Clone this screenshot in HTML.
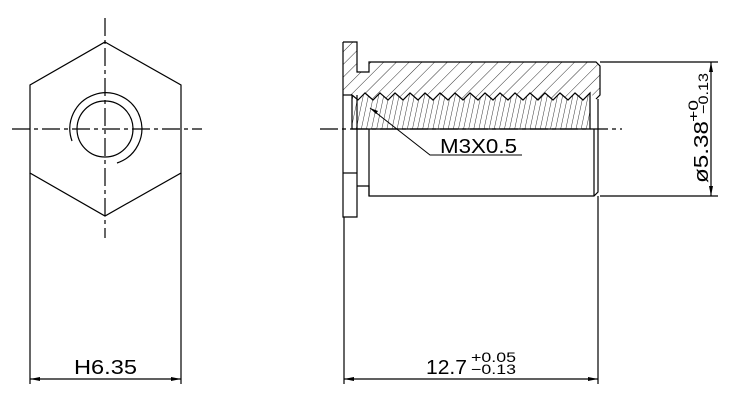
<!DOCTYPE html><html><head><style>body{margin:0;background:#fff}svg{display:block}text{font-family:"Liberation Sans",sans-serif;fill:#000}</style></head><body>
<svg width="734" height="412" viewBox="0 0 734 412" xmlns="http://www.w3.org/2000/svg">
<defs>
<pattern id="h1" patternUnits="userSpaceOnUse" width="9" height="9" patternTransform="rotate(45)"><line x1="0" y1="0" x2="0" y2="9" stroke="#000" stroke-width="0.8"/></pattern>
<pattern id="h2" patternUnits="userSpaceOnUse" width="5" height="5" patternTransform="rotate(12)"><line x1="0" y1="0" x2="0" y2="5" stroke="#000" stroke-width="0.8"/></pattern>
<clipPath id="c1"><path d="M343,42 H357 V72 H369 V62 H596 L600,66 V95 L596,99 L590,93 L583,100 L575,93 L568,100 L560,93 L553,100 L545,93 L538,100 L530,93 L523,100 L515,93 L508,100 L500,93 L493,100 L485,93 L478,100 L470,93 L463,100 L455,93 L448,100 L440,93 L433,100 L425,93 L418,100 L410,93 L403,100 L395,93 L388,100 L380,93 L373,100 L365,93 L358,100 L352,95 L343,95 Z"/></clipPath>
<clipPath id="c2"><path d="M352,95 L358,100 L365,93 L373,100 L380,93 L388,100 L395,93 L403,100 L410,93 L418,100 L425,93 L433,100 L440,93 L448,100 L455,93 L463,100 L470,93 L478,100 L485,93 L493,100 L500,93 L508,100 L515,93 L523,100 L530,93 L538,100 L545,93 L553,100 L560,93 L568,100 L575,93 L583,100 L590,93 V129 H352 Z"/></clipPath>
</defs>
<g fill="none" stroke="#000" stroke-width="1.2">
<path d="M105,42 L181,85 V173 L105,216 L30,173 V85 Z"/>
<circle cx="105" cy="129" r="28"/>
<path d="M72,141 A36,36 0 1 1 117,163"/>
<line x1="12" y1="129" x2="202" y2="129" stroke-dasharray="18,4,4,4"/>
<line x1="105" y1="18" x2="105" y2="238" stroke-dasharray="18,4,4,4"/>
<line x1="30" y1="173" x2="30" y2="384"/><line x1="181" y1="173" x2="181" y2="384"/>
<line x1="30" y1="379" x2="181" y2="379"/>
<rect x="343" y="42" width="260" height="60" fill="url(#h1)" clip-path="url(#c1)" stroke="none"/>
<rect x="350" y="90" width="245" height="40" fill="url(#h2)" clip-path="url(#c2)" stroke="none"/>
<path d="M343,42 H357 V72 H369 V62 H596 L600,66 V95 L596,99"/>
<path d="M352,95 L358,100 L365,93 L373,100 L380,93 L388,100 L395,93 L403,100 L410,93 L418,100 L425,93 L433,100 L440,93 L448,100 L455,93 L463,100 L470,93 L478,100 L485,93 L493,100 L500,93 L508,100 L515,93 L523,100 L530,93 L538,100 L545,93 L553,100 L560,93 L568,100 L575,93 L583,100 L590,93 V129 H352 Z"/>
<path d="M343,42 V217 H357 V95"/>
<line x1="343" y1="95" x2="352" y2="95"/>
<line x1="343" y1="173" x2="357" y2="173"/>
<path d="M357,186 H369 V196 H594 L598,192 V99"/>
<line x1="369" y1="129" x2="369" y2="196"/><line x1="594" y1="129" x2="594" y2="196"/>
<line x1="320" y1="129" x2="622" y2="129" stroke-dasharray="18,4,4,4"/>
<line x1="344" y1="217" x2="344" y2="384"/><line x1="598" y1="196" x2="598" y2="384"/>
<line x1="344" y1="379" x2="598" y2="379"/>
<line x1="600" y1="62" x2="718" y2="62"/><line x1="600" y1="196" x2="718" y2="196"/>
<line x1="711" y1="62" x2="711" y2="196"/>
<path d="M370,108 L430,155 H522" stroke-width="1"/>
</g>
<g fill="#000">
<path d="M30,379 l10,-2 v4 Z M181,379 l-10,-2 v4 Z M344,379 l10,-2 v4 Z M598,379 l-10,-2 v4 Z M711,62 l-2,10 h4 Z M711,196 l-2,-10 h4 Z M370,108 l8,3 l-2,3 Z"/>
</g>
<text x="74" y="374" font-size="20" textLength="63" lengthAdjust="spacingAndGlyphs">H6.35</text>
<text x="440" y="153" font-size="20" textLength="77" lengthAdjust="spacingAndGlyphs">M3X0.5</text>
<text x="426" y="374" font-size="20" textLength="41" lengthAdjust="spacingAndGlyphs">12.7</text>
<text x="471" y="362" font-size="14" textLength="45" lengthAdjust="spacingAndGlyphs">+0.05</text>
<text x="471" y="374" font-size="14" textLength="45" lengthAdjust="spacingAndGlyphs">−0.13</text>
<g transform="translate(708,183) rotate(-90)">
<text x="0" y="0" font-size="20" textLength="62" lengthAdjust="spacingAndGlyphs">ø5.38</text>
<text x="61" y="-10" font-size="14" textLength="22" lengthAdjust="spacingAndGlyphs">+0</text>
<text x="69" y="0" font-size="14" textLength="41" lengthAdjust="spacingAndGlyphs">−0.13</text>
</g>
</svg>
</body></html>
